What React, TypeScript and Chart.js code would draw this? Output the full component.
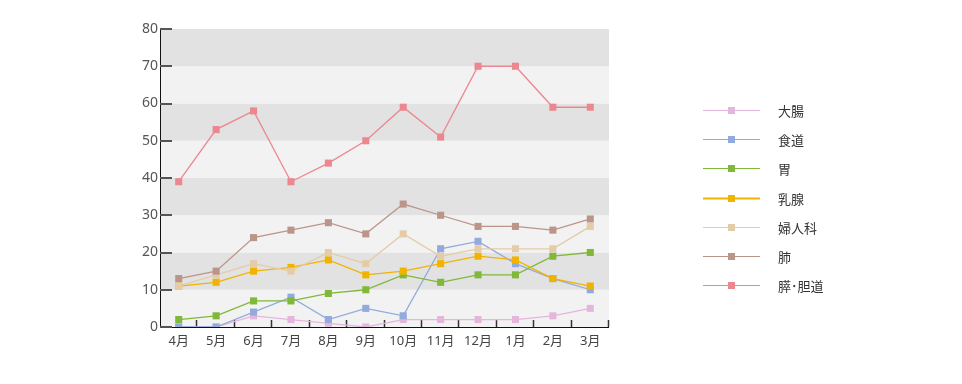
import React, { useEffect, useRef } from "react";
import { Chart, registerables } from "chart.js";

Chart.register(...registerables);

const categories = ["4月", "5月", "6月", "7月", "8月", "9月", "10月", "11月", "12月", "1月", "2月", "3月"];
const seriesNames = ["大腸", "食道", "胃", "乳腺", "婦人科", "肺", "膵･胆道"];
const daichou = [0, 0, 3, 2, 1, 0, 2, 2, 2, 2, 3, 5];
const shokudou = [0, 0, 4, 8, 2, 5, 3, 21, 23, 17, 13, 10];
const i_ = [2, 3, 7, 7, 9, 10, 14, 12, 14, 14, 19, 20];
const nyusen = [11, 12, 15, 16, 18, 14, 15, 17, 19, 18, 13, 11];
const fujinka = [11, 14, 17, 15, 20, 17, 25, 19, 21, 21, 21, 27];
const hai = [13, 15, 24, 26, 28, 25, 33, 30, 27, 27, 26, 29];
const suitan = [39, 53, 58, 39, 44, 50, 59, 51, 70, 70, 59, 59];
const seriesValues = [daichou, shokudou, i_, nyusen, fujinka, hai, suitan];
const colors = ["#e4b6dc", "#92aadc", "#80b83a", "#f0b400", "#e4cca8", "#bc958a", "#ec8790"];
const yTicks = [0, 10, 20, 30, 40, 50, 60, 70, 80];

const FONT = "'Noto Sans', 'Noto Sans CJK JP', sans-serif";
const CJK = "'Noto Sans CJK JP', sans-serif";

const decorPlugin = {
  id: "decor",
  beforeDatasetsDraw(chart: any) {
    const { ctx, chartArea } = chart;
    const y = chart.scales.y;
    ctx.save();
    for (let i = 0; i < yTicks.length - 1; i++) {
      const top = y.getPixelForValue(yTicks[i + 1]);
      const bot = y.getPixelForValue(yTicks[i]);
      ctx.fillStyle = i % 2 === 1 ? "#e2e2e2" : "#f2f2f2";
      ctx.fillRect(chartArea.left, top, chartArea.right - chartArea.left, bot - top);
    }
    ctx.strokeStyle = "#111";
    ctx.lineWidth = 1;
    ctx.beginPath();
    ctx.moveTo(chartArea.left + 0.5, chartArea.top);
    ctx.lineTo(chartArea.left + 0.5, chartArea.bottom + 0.5);
    ctx.lineTo(chartArea.right, chartArea.bottom + 0.5);
    ctx.stroke();
    ctx.strokeStyle = "#555";
    ctx.lineWidth = 2;
    for (const v of yTicks) {
      const py = Math.round(y.getPixelForValue(v));
      ctx.beginPath();
      ctx.moveTo(chartArea.left, py);
      ctx.lineTo(chartArea.left + 12, py);
      ctx.stroke();
    }
    ctx.strokeStyle = "#333";
    ctx.lineWidth = 1.5;
    const step = (chartArea.right - chartArea.left) / categories.length;
    for (let k = 1; k <= categories.length; k++) {
      const px = Math.round(chartArea.left + k * step) - 0.5;
      ctx.beginPath();
      ctx.moveTo(px, chartArea.bottom - 7);
      ctx.lineTo(px, chartArea.bottom);
      ctx.stroke();
    }
    ctx.restore();
  },
  afterDraw(chart: any) {
    const { ctx } = chart;
    ctx.save();
    chart.data.datasets.forEach((ds: any, i: number) => {
      const cy = 110 + i * 29.2;
      ctx.strokeStyle = ds.borderColor;
      ctx.lineWidth = i === 3 ? 2 : 1.2;
      ctx.beginPath();
      ctx.moveTo(703, Math.round(cy) + 0.5);
      ctx.lineTo(760, Math.round(cy) + 0.5);
      ctx.stroke();
      ctx.fillStyle = ds.borderColor;
      ctx.fillRect(728, Math.round(cy) - 3, 7, 7);
      ctx.fillStyle = "#333";
      ctx.font = `13px ${CJK}`;
      ctx.textBaseline = "middle";
      ctx.textAlign = "left";
      ctx.fillText(ds.label, 778, cy + 1);
    });
    ctx.restore();
  },
};

export default function App() {
  const ref = useRef<HTMLCanvasElement | null>(null);
  useEffect(() => {
    document.body.style.margin = "0";
    const chart = new Chart(ref.current as HTMLCanvasElement, {
      type: "line",
      data: {
        labels: categories,
        datasets: seriesNames.map((name, i) => ({
          label: name,
          data: seriesValues[i],
          borderColor: colors[i],
          backgroundColor: colors[i],
          pointBackgroundColor: colors[i],
          pointBorderColor: colors[i],
          pointBorderWidth: 0,
          pointStyle: "rect",
          pointRadius: 5,
          borderWidth: 1.3,
          tension: 0,
          order: seriesNames.length - i,
        })),
      },
      options: {
        responsive: false,
        animation: false,
        layout: { padding: { left: 0, top: 29, right: 353, bottom: 0 } },
        plugins: { legend: { display: false }, tooltip: { enabled: false } },
        scales: {
          x: {
            offset: true,
            grid: { display: false, drawTicks: false },
            border: { display: false },
            ticks: { color: "#444", font: { family: FONT, size: 13 }, padding: 6, maxRotation: 0 },
            afterFit: (s: any) => { s.height = 57; },
          },
          y: {
            min: 0,
            max: 80,
            grid: { display: false, drawTicks: false },
            border: { display: false },
            ticks: { stepSize: 10, color: "#555", font: { family: FONT, size: 14 }, padding: 2 },
            afterFit: (s: any) => { s.width = 160; },
          },
        },
      },
      plugins: [decorPlugin],
    } as any);
    return () => chart.destroy();
  }, []);
  return (
    <div style={{ width: 962, height: 384 }}>
      <canvas ref={ref} width={962} height={384} />
    </div>
  );
}
